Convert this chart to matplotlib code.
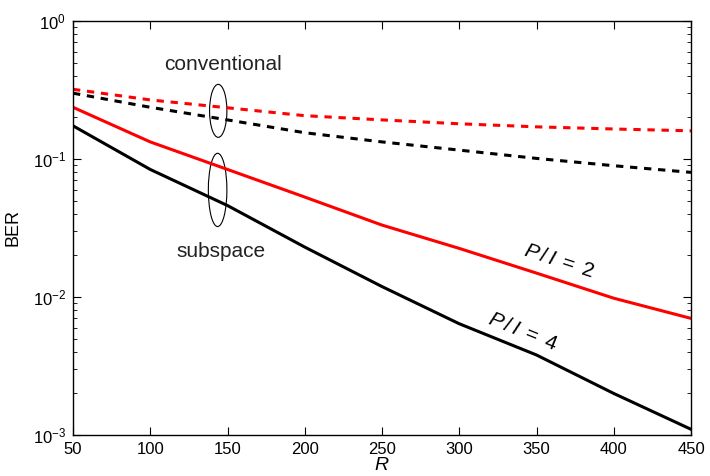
import matplotlib
matplotlib.use("Agg")
import matplotlib.pyplot as plt
from matplotlib.patches import Ellipse

plt.rcParams['font.family'] = ['Liberation Sans', 'DejaVu Sans']
plt.rcParams['mathtext.fontset'] = 'custom'
plt.rcParams['mathtext.rm'] = 'Liberation Sans'
plt.rcParams['mathtext.it'] = 'Liberation Sans:italic'

R = [50, 100, 150, 200, 250, 300, 350, 400, 450]
conv_pi2 = [0.32, 0.268, 0.235, 0.206, 0.192, 0.180, 0.171, 0.165, 0.160]
conv_pi4 = [0.30, 0.237, 0.192, 0.155, 0.133, 0.116, 0.101, 0.0894, 0.080]
sub_pi2 = [0.237, 0.133, 0.084, 0.053, 0.0332, 0.0225, 0.0149, 0.0098, 0.0070]
sub_pi4 = [0.174, 0.084, 0.046, 0.023, 0.0119, 0.0064, 0.0038, 0.0020, 0.0011]
xticks = [50, 100, 150, 200, 250, 300, 350, 400, 450]

fig = plt.figure(figsize=(7.1, 4.76), dpi=100)
ax = fig.add_axes([73/710, 41/476, 618/710, 414/476])

lw = 2.2
dash = (0, (2.4, 2.2))
ax.semilogy(R, conv_pi2, color='red', lw=lw, linestyle=dash)
ax.semilogy(R, conv_pi4, color='black', lw=lw, linestyle=dash)
ax.semilogy(R, sub_pi2, color='red', lw=lw)
ax.semilogy(R, sub_pi4, color='black', lw=lw)

ax.set_xlim(50, 450)
ax.set_ylim(1e-3, 1)
ax.set_xticks(xticks)
ax.set_xticklabels([str(t) for t in xticks])
ax.tick_params(which='both', direction='in', top=True, right=True, labelsize=12)
ax.tick_params(which='major', length=6)
ax.tick_params(which='minor', length=3)
ax.tick_params(axis='x', pad=5)
ax.tick_params(axis='y', pad=5)
for s in ax.spines.values():
    s.set_linewidth(1.0)

ax.set_ylabel('BER', fontsize=13, labelpad=8)
ax.set_xlabel(r'$R$', fontsize=14, labelpad=0)

ax.add_patch(Ellipse((0.235, 0.783), 0.028, 0.128, transform=ax.transAxes,
                     fill=False, edgecolor='black', lw=0.8))
ax.add_patch(Ellipse((0.234, 0.592), 0.030, 0.177, transform=ax.transAxes,
                     fill=False, edgecolor='black', lw=0.8))

ax.text(147, 0.48, 'conventional', fontsize=15, ha='center', va='center', color='#222222')
ax.text(146, 0.0212, 'subspace', fontsize=15, ha='center', va='center', color='#222222')
ax.text(364.6, 0.0182, r'$P\,/\,I\;=\;2$', fontsize=15, ha='center', va='center', rotation=-18)
ax.text(341, 0.00557, r'$P\,/\,I\;=\;4$', fontsize=15, ha='center', va='center', rotation=-22)

fig.savefig('out.png', dpi=100)
